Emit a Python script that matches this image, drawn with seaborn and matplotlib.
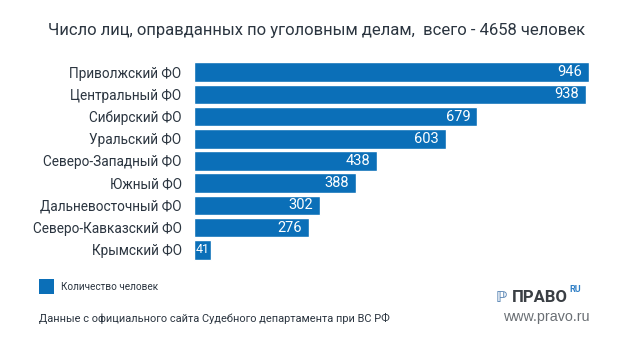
import matplotlib
matplotlib.use("Agg")
import matplotlib.pyplot as plt
import seaborn as sns
import pandas as pd
from matplotlib.patches import Rectangle

regions = ["Приволжский ФО", "Центральный ФО", "Сибирский ФО", "Уральский ФО",
           "Северо-Западный ФО", "Южный ФО", "Дальневосточный ФО",
           "Северо-Кавказский ФО", "Крымский ФО"]
counts = [946, 938, 679, 603, 438, 388, 302, 276, 41]

title = "Число лиц, оправданных по уголовным делам,  всего - 4658 человек"
legend_label = "Количество человек"
source = "Данные с официального сайта Судебного департамента при ВС РФ"

BLUE = "#0b6fb8"
DARK = "#2b3540"

sns.set_theme(style="white")
FONT = ["Roboto", "DejaVu Sans"]
plt.rcParams["font.family"] = FONT

df = pd.DataFrame({"region": regions, "count": counts})

W, H = 630, 339
fig = plt.figure(figsize=(W / 100, H / 100), dpi=100)
fig.patch.set_facecolor("white")

left_px, right_px = 194, 194 + 417.5
top_px, bot_px = 61, 261
ax = fig.add_axes([left_px / W, 1 - bot_px / H, (right_px - left_px) / W, (bot_px - top_px) / H])

sns.barplot(data=df, y="region", x="count", orient="h", color=BLUE, saturation=1,
            width=0.88, ax=ax)
ax.set_xlim(0, 1000)
ax.set_ylim(len(regions) - 0.5, -0.5)
for s in ax.spines.values():
    s.set_visible(False)
ax.set_xticks([])
ax.set_xlabel("")
ax.set_ylabel("")
ax.tick_params(axis="y", length=0, pad=9)
for lab in ax.get_yticklabels():
    lab.set_fontsize(9.8)
    lab.set_color(DARK)

for i, v in enumerate(counts):
    if v < 80:
        ax.text(v / 2, i, str(v), ha="center", va="center", color="white", fontsize=9)
    else:
        ax.annotate(str(v), (v, i), xytext=(-7, 0), textcoords="offset pixels",
                    ha="right", va="center", color="white", fontsize=10.5)

fig.text(317 / W, 1 - 30 / H, title, ha="center", va="center", fontsize=12, color=DARK)

fig.patches.append(Rectangle((39 / W, 1 - 294 / H), 15 / W, 15 / H,
                             transform=fig.transFigure, facecolor=BLUE, edgecolor="none"))
fig.text(61 / W, 1 - 287 / H, legend_label, ha="left", va="center", fontsize=7.2, color=DARK)
fig.text(39 / W, 1 - 318 / H, source, ha="left", va="center", fontsize=7.9, color=DARK)

# logo
fig.text(496 / W, 1 - 297 / H, "ℙ", ha="left", va="center", fontsize=11, color="#5a86b5",
         fontweight="bold", family=["DejaVu Sans"])
fig.text(512 / W, 1 - 297 / H, "ПРАВО", ha="left", va="center", fontsize=12,
         color="#3a3f44", fontweight="bold")
fig.text(569 / W, 1 - 290 / H, "RU", ha="left", va="center", fontsize=6.5,
         color="#2f7fc6", fontweight="bold")
fig.text(590 / W, 1 - 317 / H, "www.pravo.ru", ha="right", va="center", fontsize=10.3,
         color="#6a6f74", family=["Liberation Sans", "DejaVu Sans"])

fig.savefig("out.png", dpi=100, facecolor="white")
